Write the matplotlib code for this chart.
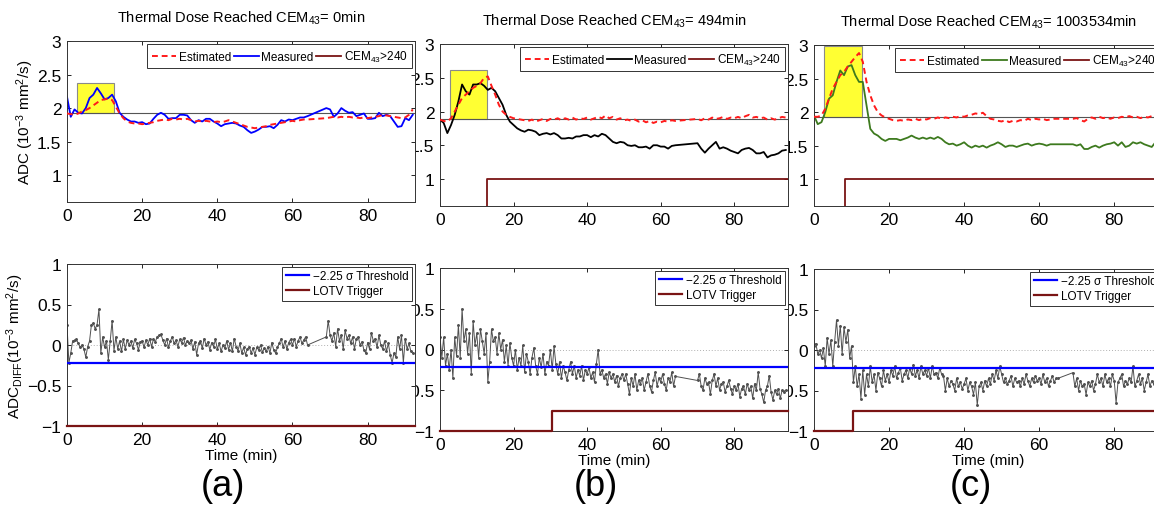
import numpy as np
import matplotlib
matplotlib.use("Agg")
import matplotlib.pyplot as plt
from matplotlib.patches import Rectangle

plt.rcParams['font.family'] = ['Liberation Sans', 'DejaVu Sans']
plt.rcParams['mathtext.fontset'] = 'custom'
plt.rcParams['mathtext.rm'] = 'Liberation Sans'
plt.rcParams['mathtext.it'] = 'Liberation Sans:italic'
plt.rcParams['mathtext.bf'] = 'Liberation Sans:bold'

# ---- top row: ADC (estimated vs measured), one value per minute ----
t_top_a = list(range(0, 65)) + list(range(69, 93))
meas_a = [2.17, 1.87, 1.98, 1.93, 1.92, 2.0, 2.15, 2.2, 2.3, 2.22,
          2.13, 2.15, 2.2, 2.1, 1.93, 1.87, 1.83, 1.8, 1.8, 1.78,
          1.79, 1.76, 1.77, 1.84, 1.9, 1.93, 1.9, 1.84, 1.85, 1.85,
          1.9, 1.9, 1.89, 1.82, 1.78, 1.82, 1.8, 1.84, 1.84, 1.8,
          1.77, 1.73, 1.76, 1.77, 1.78, 1.77, 1.74, 1.72, 1.67, 1.63,
          1.65, 1.68, 1.72, 1.72, 1.73, 1.7, 1.75, 1.82, 1.8, 1.83,
          1.82, 1.84, 1.86, 1.86, 1.88,
          2.0, 1.98, 1.87, 1.92, 2.0, 1.96, 1.93, 1.94, 1.88, 1.9,
          1.92, 1.84, 1.84, 1.85, 1.93, 1.88, 1.9, 1.88, 1.8, 1.72,
          1.73, 1.85, 1.82, 1.9]
est_a = [1.92, 1.91, 1.9, 1.92, 1.95, 1.97, 2.0, 2.04, 2.08, 2.12,
         2.13, 2.14, 2.12, 2.02, 1.92, 1.85, 1.8, 1.78, 1.77, 1.77,
         1.76, 1.77, 1.78, 1.79, 1.81, 1.82, 1.83, 1.82, 1.84, 1.83,
         1.84, 1.83, 1.84, 1.82, 1.8, 1.81, 1.8, 1.81, 1.8, 1.79,
         1.8, 1.79, 1.8, 1.82, 1.8, 1.78, 1.76, 1.74, 1.72, 1.71,
         1.7, 1.71, 1.72, 1.73, 1.75, 1.76, 1.77, 1.78, 1.79, 1.8,
         1.81, 1.8, 1.82, 1.83, 1.83,
         1.85, 1.86, 1.87, 1.86, 1.87, 1.86, 1.87, 1.86, 1.86, 1.85,
         1.86, 1.85, 1.86, 1.87, 1.88, 1.9, 1.89, 1.88, 1.87, 1.86,
         1.85, 1.86, 1.9, 1.98]

t_top_b = list(range(0, 65)) + list(range(70, 95))
meas_b = [1.88, 1.83, 1.68, 1.8, 1.95, 2.15, 2.4, 2.3, 2.25, 2.4,
          2.4, 2.42, 2.38, 2.32, 2.35, 2.3, 2.2, 2.1, 1.95, 1.85,
          1.8, 1.75, 1.72, 1.7, 1.73, 1.72, 1.7, 1.65, 1.67, 1.68,
          1.66, 1.68, 1.65, 1.6, 1.6, 1.61, 1.6, 1.63, 1.63, 1.65,
          1.65, 1.62, 1.65, 1.63, 1.67, 1.65, 1.6, 1.55, 1.53, 1.55,
          1.54, 1.5, 1.49, 1.5, 1.47, 1.47, 1.48, 1.45, 1.5, 1.5,
          1.48, 1.48, 1.45, 1.49, 1.5,
          1.53, 1.45, 1.39, 1.45, 1.5, 1.55, 1.45, 1.47, 1.45, 1.42,
          1.4, 1.38, 1.43, 1.45, 1.46, 1.43, 1.38, 1.38, 1.4, 1.32,
          1.35, 1.36, 1.38, 1.42, 1.43]
est_b = [1.88, 1.86, 1.85, 1.9, 2.0, 2.1, 2.2, 2.25, 2.3, 2.35,
         2.38, 2.42, 2.5, 2.52, 2.38, 2.25, 2.1, 2.0, 1.95, 1.92,
         1.9, 1.89, 1.88, 1.87, 1.86, 1.88, 1.85, 1.87, 1.89, 1.86,
         1.89, 1.88, 1.9, 1.87, 1.9, 1.88, 1.91, 1.88, 1.9, 1.89,
         1.91, 1.88, 1.9, 1.92, 1.9, 1.94, 1.9, 1.92, 1.88, 1.9,
         1.87, 1.88, 1.86, 1.88, 1.85, 1.87, 1.84, 1.86, 1.83, 1.85,
         1.84, 1.86, 1.85, 1.87, 1.86,
         1.89, 1.87, 1.9, 1.88, 1.91, 1.89, 1.9, 1.92, 1.89, 1.91,
         1.9, 1.92, 1.9, 1.93, 1.95, 1.91, 1.92, 1.9, 1.91, 1.88,
         1.9, 1.88, 1.9, 1.92, 1.91]

t_top_c = list(range(0, 65)) + list(range(69, 93))
meas_c = [1.95, 1.82, 1.85, 2.0, 2.2, 2.25, 2.45, 2.62, 2.55, 2.68,
          2.7, 2.55, 2.45, 2.45, 2.1, 1.75, 1.68, 1.65, 1.6, 1.57,
          1.6, 1.6, 1.6, 1.58, 1.6, 1.62, 1.65, 1.62, 1.6, 1.62,
          1.6, 1.62, 1.6, 1.63, 1.6, 1.55, 1.52, 1.53, 1.5, 1.52,
          1.55, 1.5, 1.47, 1.5, 1.48, 1.5, 1.47, 1.5, 1.52, 1.55,
          1.52, 1.48, 1.5, 1.5, 1.48, 1.5, 1.52, 1.53, 1.5, 1.52,
          1.53, 1.52, 1.5, 1.52, 1.52,
          1.52, 1.5, 1.52, 1.45, 1.45, 1.48, 1.5, 1.47, 1.5, 1.52,
          1.53, 1.55, 1.5, 1.55, 1.48, 1.5, 1.55, 1.53, 1.55, 1.52,
          1.5, 1.48, 1.55, 1.58]
est_c = [1.93, 1.93, 1.95, 2.05, 2.2, 2.35, 2.45, 2.55, 2.6, 2.68,
         2.75, 2.82, 2.88, 2.75, 2.45, 2.25, 2.1, 2.0, 1.95, 1.92,
         1.9, 1.88, 1.87, 1.88, 1.87, 1.89, 1.88, 1.9, 1.88, 1.9,
         1.89, 1.91, 1.9, 1.92, 1.9, 1.92, 1.91, 1.93, 1.92, 1.94,
         1.93, 1.95, 1.96, 1.98, 1.97, 1.99, 1.94, 1.9, 1.89, 1.87,
         1.86, 1.88, 1.85, 1.87, 1.86, 1.88, 1.87, 1.9, 1.88, 1.9,
         1.89, 1.9, 1.88, 1.89, 1.9,
         1.9, 1.91, 1.88, 1.86, 1.9, 1.92, 1.9, 1.93, 1.91, 1.92,
         1.9, 1.92, 1.91, 1.93, 1.92, 1.94, 1.92, 1.93, 1.91, 1.93,
         1.92, 1.94, 1.92, 1.93]

# ---- bottom row: ADC_DIFF, one value per half minute ----
t_bot_a = np.concatenate([np.arange(0, 64.5, 0.5), np.arange(69, 92.5, 0.5)])
diff_a = [0.25, -0.22, -0.1, 0.05, 0.06, 0.07, 0.02, -0.03, 0.0, -0.05,
          -0.15, -0.02, 0.05, 0.25, 0.27, 0.2, 0.25, 0.44, -0.1, 0.1,
          -0.03, 0.05, -0.18, 0.05, 0.3, -0.07, 0.1, -0.05, 0.05, -0.08,
          0.07, -0.05, 0.06, 0.0, 0.05, -0.04, 0.07, 0.02, -0.06, 0.04,
          0.05, -0.03, 0.06, 0.0, 0.08, -0.02, 0.07, 0.04, 0.1, 0.12,
          0.13, 0.06, 0.0, 0.08, -0.03, 0.05, 0.1, 0.02, 0.06, -0.02,
          0.07, 0.03, 0.09, 0.0, 0.05, 0.02, 0.06, -0.05, 0.04, -0.12,
          0.02, 0.05, -0.04, 0.08, 0.0, 0.04, -0.06, 0.03, -0.02, 0.07,
          -0.05, 0.02, -0.08, 0.0, -0.04, 0.05, -0.06, 0.03, -0.08, 0.08,
          -0.02, -0.07, 0.02, -0.1, -0.03, -0.12, -0.05, -0.02, -0.1, -0.04,
          -0.12, -0.03, -0.06, 0.0, -0.09, -0.04, -0.08, -0.02, -0.1, 0.03,
          -0.06, -0.1, -0.03, 0.02, 0.08, -0.03, 0.05, -0.05, 0.03, 0.07,
          0.0, 0.08, -0.02, 0.05, 0.1, 0.02, 0.06, 0.1, 0.0,
          0.1, 0.3, 0.12, 0.05, 0.15, -0.02, 0.2, 0.05, 0.12, -0.05,
          0.18, 0.08, 0.12, 0.02, 0.1, -0.05, 0.08, 0.1, 0.0, 0.04,
          -0.06, -0.1, 0.03, -0.05, 0.15, 0.05, 0.08, -0.03, 0.12, 0.0,
          -0.05, 0.05, -0.08, 0.02, -0.12, -0.22, -0.1, -0.15, 0.1, -0.05,
          0.12, -0.22, 0.08, -0.05, 0.02, -0.08, -0.1]

t_bot_b = np.concatenate([np.arange(0, 64.5, 0.5), np.arange(70, 94.5, 0.5)])
diff_b = [0.15, -0.1, 0.15, -0.2, -0.05, -0.25, 0.0, -0.35, 0.15, -0.08,
          0.3, -0.1, 0.5, 0.1, 0.25, -0.05, 0.2, -0.3, 0.35, 0.05,
          0.2, -0.1, 0.25, 0.1, -0.05, 0.2, -0.4, -0.15, 0.25, 0.1,
          0.15, -0.05, 0.2, 0.0, 0.12, -0.15, 0.05, -0.2, 0.08, -0.1,
          -0.2, 0.0, -0.25, -0.1, -0.2, 0.05, -0.28, -0.05, -0.15, -0.3,
          -0.1, 0.02, -0.2, -0.3, -0.1, -0.22, -0.05, -0.3, -0.15, -0.2,
          0.0, -0.25, 0.04, -0.18, -0.3, -0.15, -0.35, -0.2, -0.28, -0.38,
          -0.25, -0.15, -0.3, -0.2, -0.35, -0.25, -0.32, -0.2, -0.38, -0.25,
          -0.3, -0.22, -0.35, -0.28, -0.4, -0.18, 0.0, -0.3, -0.25, -0.35,
          -0.3, -0.42, -0.28, -0.35, -0.3, -0.4, -0.32, -0.45, -0.35, -0.3,
          -0.38, -0.3, -0.42, -0.55, -0.35, -0.45, -0.3, -0.5, -0.38, -0.42,
          -0.35, -0.5, -0.4, -0.3, -0.45, -0.52, -0.38, -0.28, -0.45, -0.35,
          -0.4, -0.3, -0.42, -0.5, -0.35, -0.4, -0.28, -0.45, -0.33,
          -0.38, -0.3, -0.45, -0.5, -0.35, -0.42, -0.4, -0.55, -0.38, -0.3,
          -0.45, -0.35, -0.5, -0.42, -0.4, -0.52, -0.45, -0.38, -0.48, -0.55,
          -0.45, -0.5, -0.42, -0.58, -0.48, -0.45, -0.55, -0.42, -0.5, -0.45,
          -0.6, -0.42, -0.5, -0.28, -0.48, -0.55, -0.65, -0.5, -0.45, -0.32,
          -0.52, -0.62, -0.5, -0.55, -0.48, -0.6, -0.5, -0.52, -0.5]

t_bot_c = np.concatenate([np.arange(0, 65.5, 0.5), np.arange(69, 93, 0.5)])
diff_c = [0.05, 0.08, -0.05, 0.0, -0.1, 0.02, -0.2, 0.15, -0.05, 0.12,
          -0.2, 0.1, 0.37, 0.05, 0.3, -0.05, 0.28, 0.1, 0.25, -0.1,
          0.05, -0.4, -0.2, -0.45, -0.3, -0.6, -0.25, -0.55, -0.3, -0.45,
          -0.2, -0.4, -0.3, -0.5, -0.28, -0.35, -0.45, -0.25, -0.38, -0.3,
          -0.4, -0.25, -0.32, -0.2, -0.35, -0.28, -0.22, -0.38, -0.3, -0.25,
          -0.35, -0.22, -0.3, -0.18, -0.32, -0.25, -0.35, -0.2, -0.3, -0.25,
          -0.32, -0.22, -0.35, -0.2, -0.3, -0.28, -0.35, -0.22, -0.3, -0.32,
          -0.5, -0.35, -0.45, -0.38, -0.42, -0.5, -0.35, -0.45, -0.4, -0.48,
          -0.42, -0.35, -0.5, -0.4, -0.45, -0.55, -0.4, -0.68, -0.45, -0.4,
          -0.5, -0.38, -0.45, -0.35, -0.42, -0.3, -0.38, -0.25, -0.35, -0.2,
          -0.3, -0.4, -0.35, -0.42, -0.38, -0.32, -0.45, -0.35, -0.4, -0.38,
          -0.45, -0.35, -0.42, -0.3, -0.38, -0.45, -0.35, -0.4, -0.32, -0.38,
          -0.35, -0.42, -0.3, -0.4, -0.35, -0.45, -0.38, -0.32, -0.4, -0.35,
          -0.35,
          -0.28, -0.45, -0.35, -0.5, -0.38, -0.45, -0.42, -0.55, -0.4, -0.45,
          -0.38, -0.5, -0.42, -0.3, -0.4, -0.35, -0.45, -0.3, -0.4, -0.35,
          -0.45, -0.3, -0.38, -0.65, -0.4, -0.35, -0.3, -0.45, -0.38, -0.42,
          -0.35, -0.4, -0.2, -0.45, -0.38, -0.3, -0.42, -0.35, -0.5, -0.4,
          -0.3, -0.45, -0.38, -0.42, -0.35, -0.4, -0.38, -0.35]

# per-panel annotations
cem_dose = ["0", "494", "1003534"]
panel_tags = ["(a)", "(b)", "(c)"]
x_end = [92.6, 94.6, 93.0]
baseline = [1.92, 1.89, 1.93]
heat_start = [2.7, 2.7, 2.7]
heat_end = [12.5, 12.8, 12.8]
heat_top = [2.37, 2.62, 2.98]
cem_on = [None, 12.8, 8.3]
threshold = [-0.22, -0.22, -0.22]
lotv_on = [None, 30.5, 10.5]
lotv_low, lotv_high = -1.0, -0.75

meas_color = ["#0000ff", "#000000", "#3d7a1e"]
dark_red = "#7a1414"

t_top = [t_top_a, t_top_b, t_top_c]
meas = [meas_a, meas_b, meas_c]
est = [est_a, est_b, est_c]
t_bot = [t_bot_a, t_bot_b, t_bot_c]
diffs = [diff_a, diff_b, diff_c]

W, H = 1154, 506
fig = plt.figure(figsize=(W / 100, H / 100), dpi=100)

# axes rectangles in pixels: left, top, width, height
top_px = [(67, 42, 348, 161), (440, 45, 348, 162), (814, 46, 349, 161)]
bot_px = [(67, 265, 348, 162), (440, 269, 348, 163), (814, 270, 349, 162)]


def px_rect(r):
    l, t, w, h = r
    return [l / W, 1 - (t + h) / H, w / W, h / H]


def style(ax, xmax, ylim, yticks, ylabels):
    ax.set_xlim(0, xmax)
    ax.set_ylim(*ylim)
    ax.set_xticks([0, 20, 40, 60, 80])
    ax.set_yticks(yticks)
    ax.set_yticklabels(ylabels)
    ax.tick_params(direction="in", length=3, width=0.6, labelsize=12.5,
                   top=True, right=True, pad=4)
    for s in ax.spines.values():
        s.set_linewidth(0.7)
        s.set_color("#333333")


# add columns right to left so the left neighbour covers overflowing labels
for i in [2, 1, 0]:
    xmax = x_end[i]

    # ---------- top panel ----------
    ax = fig.add_axes(px_rect(top_px[i]))
    ax.add_patch(Rectangle((heat_start[i], baseline[i]),
                           heat_end[i] - heat_start[i], heat_top[i] - baseline[i],
                           facecolor="#ffff33", edgecolor="#8a8a8a", lw=0.8, zorder=1))
    ax.axhline(baseline[i], color="#555555", lw=0.8, zorder=1.5)
    l1, = ax.plot(t_top[i], est[i], "--", color="#ff1a1a", lw=1.4, dashes=(3, 2), zorder=3)
    l2, = ax.plot(t_top[i], meas[i], "-", color=meas_color[i], lw=1.3, zorder=2)
    if cem_on[i] is None:
        cx, cy = [0, xmax], [0, 0]
    else:
        cx, cy = [0, cem_on[i], cem_on[i], xmax], [0, 0, 1, 1]
    l3, = ax.plot(cx, cy, color=dark_red, lw=1.3, zorder=2)
    style(ax, xmax, (0.6, 3), [1, 1.5, 2, 2.5, 3], ["1", "1.5", "2", "2.5", "3"])
    ax.set_title("Thermal Dose Reached CEM$_{43}$= " + cem_dose[i] + "min",
                 fontsize=10.5, pad=14)
    leg = ax.legend([l1, l2, l3], ["Estimated", "Measured", "CEM$_{43}$>240"],
                    loc="upper right", ncol=3, fontsize=8.5, handlelength=2.1,
                    handletextpad=0.2, columnspacing=0.25, borderpad=0.4,
                    borderaxespad=0.25, fancybox=False, framealpha=1)
    leg.get_frame().set_edgecolor("#333333")
    leg.get_frame().set_linewidth(0.7)
    if i == 0:
        ax.set_ylabel("ADC (10$^{-3}$ mm$^{2}$/s)", fontsize=11, labelpad=1)

    # ---------- bottom panel ----------
    bx = fig.add_axes(px_rect(bot_px[i]))
    bx.axhline(0, color="#b0b0b0", lw=0.7, ls=(0, (1, 2)), zorder=1)
    bx.plot(t_bot[i], diffs[i], "-", color="#505050", lw=0.7,
            marker=".", markersize=2.2, zorder=2)
    b1, = bx.plot([0, xmax], [threshold[i], threshold[i]], color="#0000ff", lw=1.6, zorder=3)
    if lotv_on[i] is None:
        lx, ly = [0, xmax], [lotv_low, lotv_low]
    else:
        lx, ly = [0, lotv_on[i], lotv_on[i], xmax], [lotv_low, lotv_low, lotv_high, lotv_high]
    b2, = bx.plot(lx, ly, color=dark_red, lw=1.6, zorder=3, clip_on=False)
    style(bx, xmax, (-1, 1), [-1, -0.5, 0, 0.5, 1], ["\u22121", "\u22120.5", "0", "0.5", "1"])
    bleg = bx.legend([b1, b2], ["\u22122.25 \u03c3 Threshold", "LOTV Trigger"],
                     loc="upper right", fontsize=8.5, handlelength=2.0,
                     handletextpad=0.3, borderpad=0.3, labelspacing=0.25,
                     borderaxespad=0.25, fancybox=False, framealpha=1)
    bleg.get_frame().set_edgecolor("#333333")
    bleg.get_frame().set_linewidth(0.7)
    bx.set_xlabel("Time (min)", fontsize=11, labelpad=1)
    if i == 0:
        bx.set_ylabel("ADC$_{\\mathrm{DIFF}}$(10$^{-3}$ mm$^{2}$/s)", fontsize=11, labelpad=1)

    l, t, w, h = bot_px[i]
    fig.text((l + w / 2 - 18) / W, 1 - 487 / H, panel_tags[i], fontsize=26,
             ha="center", va="center")

fig.savefig("out.png", dpi=100)
